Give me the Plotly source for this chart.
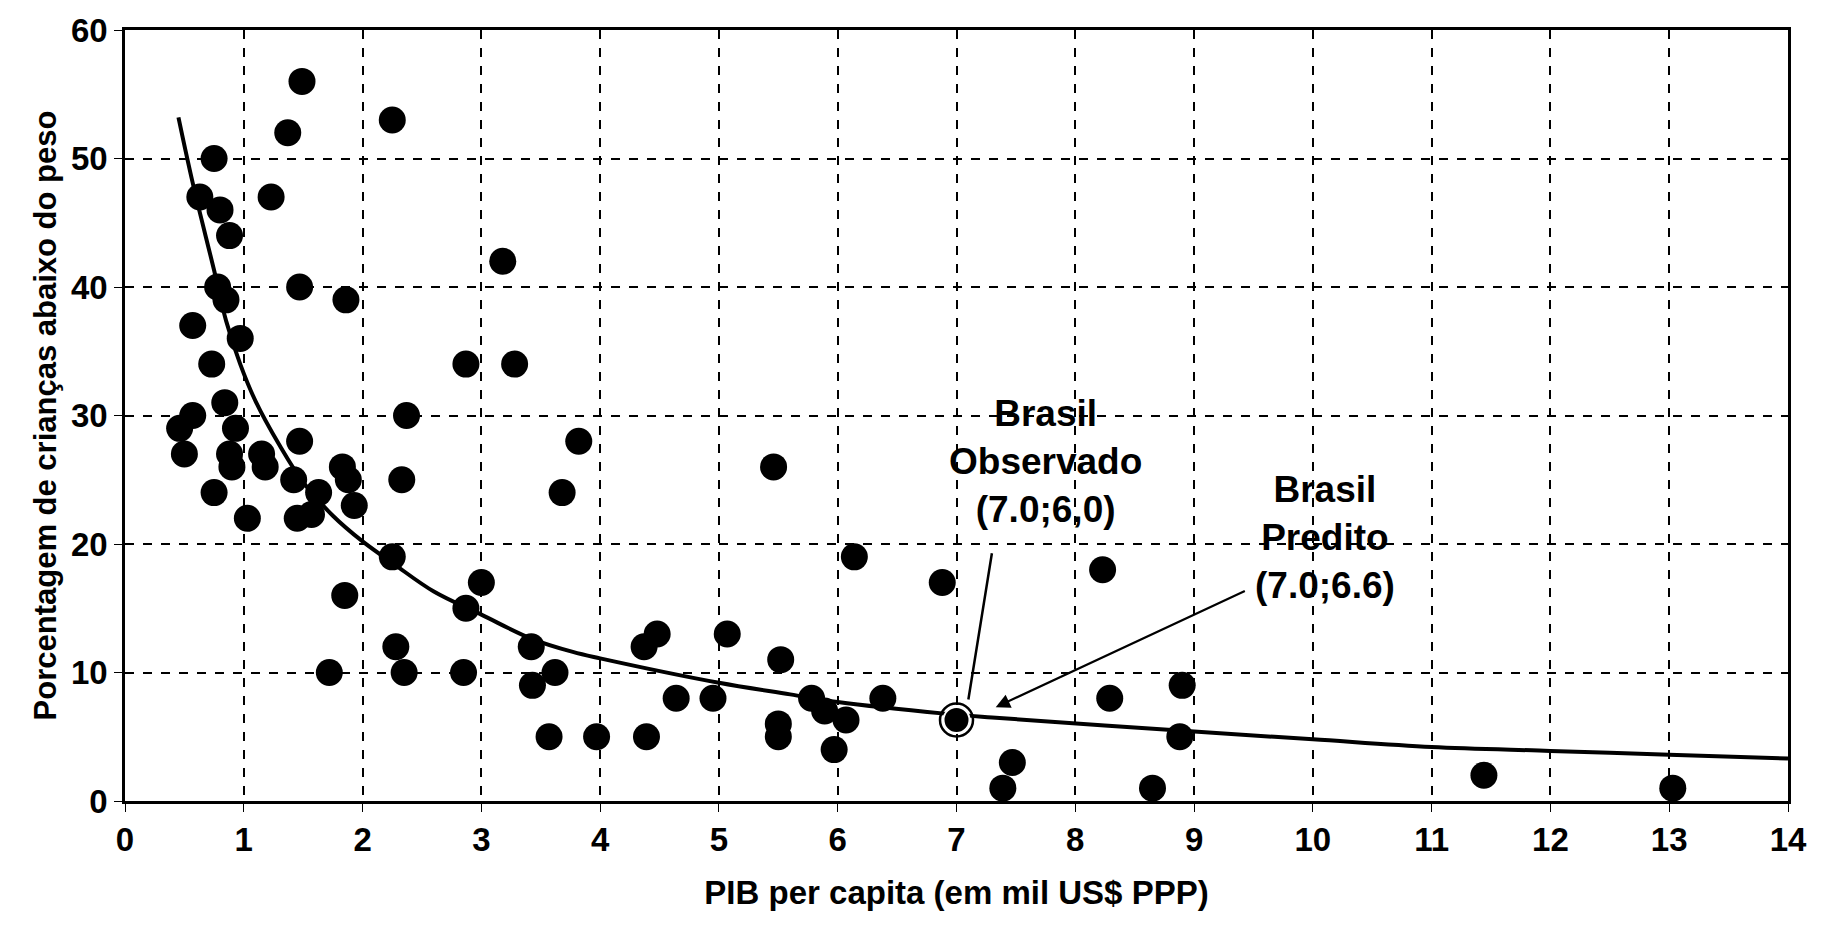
import plotly.graph_objects as go

# Countries: GDP per capita (thousand US$ PPP) vs % underweight children
gdp = [1.49, 1.37, 2.25, 0.75, 0.63, 1.23, 0.80, 0.88, 3.18, 0.78, 1.47, 0.85, 1.86,
       0.57, 0.97, 2.87, 3.28, 0.73, 0.84, 0.57, 2.37, 0.46, 0.93, 3.82, 0.50, 1.47,
       1.15, 0.88, 0.90, 1.18, 1.83, 5.46, 1.42, 1.88, 2.33, 0.75, 1.63, 3.68, 1.93,
       1.03, 1.45, 1.57, 2.25, 6.14, 6.88, 3.00, 8.23, 1.85, 2.87, 5.07, 4.48, 4.37,
       2.28, 3.42, 5.52, 1.72, 2.35, 2.85, 3.62, 3.43, 8.90, 4.64, 4.95, 5.78, 6.38,
       8.29, 5.89, 5.50, 6.07, 3.57, 3.97, 4.39, 5.50, 8.88, 5.97, 7.47, 7.39, 8.65,
       11.44, 13.03]
underweight = [56, 52, 53, 50, 47, 47, 46, 44, 42, 40, 40, 39, 39,
               37, 36, 34, 34, 34, 31, 30, 30, 29, 29, 28, 27, 28,
               27, 27, 26, 26, 26, 26, 25, 25, 25, 24, 24, 24, 23,
               22, 22, 22.3, 19, 19, 17, 17, 18, 16, 15, 13, 13, 12,
               12, 12, 11, 10, 10, 10, 10, 9, 9, 8, 8, 8, 8,
               8, 7, 6, 6.3, 5, 5, 5, 5, 5, 4, 3, 1, 1,
               2, 1]

# Fitted curve
fit_x = [0.45, 0.57, 0.75, 0.85, 0.97, 1.1, 1.3, 1.5, 1.75, 2.0, 2.27, 2.6, 3.0,
         3.43, 3.77, 4.0, 5.0, 5.6, 6.0, 6.9, 7.3, 9.0, 10.0, 11.0, 12.0, 13.0, 14.0]
fit_y = [53.2, 48.1, 41.3, 37.4, 34.0, 31.1, 27.7, 24.8, 22.2, 20.2, 18.4, 16.3, 14.5,
         12.6, 11.6, 11.1, 9.2, 8.3, 7.7, 6.8, 6.5, 5.4, 4.8, 4.2, 3.9, 3.6, 3.3]

brasil_x = [7.0]
brasil_y = [6.3]

x_ticks = list(range(0, 15))
y_ticks = [0, 10, 20, 30, 40, 50, 60]

FONT = "Liberation Sans"

fig = go.Figure()
fig.add_trace(go.Scatter(x=fit_x, y=fit_y, mode="lines",
                         line=dict(color="black", width=4, shape="spline"),
                         hoverinfo="skip", showlegend=False))
fig.add_trace(go.Scatter(x=gdp, y=underweight, mode="markers",
                         marker=dict(color="black", size=27),
                         showlegend=False))
fig.add_trace(go.Scatter(x=brasil_x, y=brasil_y, mode="markers",
                         marker=dict(color="black", size=26,
                                     line=dict(color="white", width=2)),
                         showlegend=False))
fig.add_trace(go.Scatter(x=brasil_x, y=brasil_y, mode="markers",
                         marker=dict(symbol="circle-open", color="black", size=33,
                                     line=dict(width=2.5)),
                         showlegend=False))

fig.add_annotation(x=7.1, y=7.9, ax=7.3, ay=19.4, xref="x", yref="y",
                   axref="x", ayref="y", showarrow=True, arrowhead=0,
                   arrowwidth=2.5, arrowcolor="black", text="")
fig.add_annotation(x=7.33, y=7.3, ax=9.44, ay=16.4, xref="x", yref="y",
                   axref="x", ayref="y", showarrow=True, arrowhead=2,
                   arrowsize=1.3, arrowwidth=2.2, arrowcolor="black", text="")
fig.add_annotation(x=7.75, y=26.4, xref="x", yref="y", showarrow=False,
                   text="<b>Brasil<br>Observado<br>(7.0;6,0)</b>",
                   font=dict(family=FONT, size=37, color="black"),
                   align="center", yanchor="middle")
fig.add_annotation(x=10.1, y=20.5, xref="x", yref="y", showarrow=False,
                   text="<b>Brasil<br>Predito<br>(7.0;6.6)</b>",
                   font=dict(family=FONT, size=37, color="black"),
                   align="center", yanchor="middle")

fig.update_xaxes(range=[0, 14], tickvals=x_ticks, ticktext=[str(v) for v in x_ticks],
                 showgrid=True, gridcolor="black", griddash="dash", gridwidth=1.5,
                 showline=True, linecolor="black", linewidth=2.5, mirror=True,
                 ticks="outside", ticklen=8, tickcolor="black", zeroline=False,
                 tickfont=dict(family=FONT, size=33, color="black", weight="bold"),
                 title=dict(text="<b>PIB per capita (em mil US$ PPP)</b>",
                            font=dict(family=FONT, size=33, color="black"),
                            standoff=24))
fig.update_yaxes(range=[0, 60], tickvals=y_ticks, ticktext=[str(v) for v in y_ticks],
                 showgrid=True, gridcolor="black", griddash="dash", gridwidth=1.5,
                 showline=True, linecolor="black", linewidth=2.5, mirror=True,
                 ticks="outside", ticklen=8, tickcolor="black", zeroline=False,
                 tickfont=dict(family=FONT, size=33, color="black", weight="bold"),
                 title=dict(text="<b>Porcentagem de crianças abaixo do peso</b>",
                            font=dict(family=FONT, size=31, color="black"),
                            standoff=6))

fig.update_layout(width=1827, height=927, autosize=False,
                  margin=dict(l=125, r=39, t=28, b=126),
                  paper_bgcolor="white", plot_bgcolor="white",
                  font=dict(family=FONT, color="black"))

fig.write_html("out.html", include_plotlyjs=True, full_html=True,
               config={"displayModeBar": False})
